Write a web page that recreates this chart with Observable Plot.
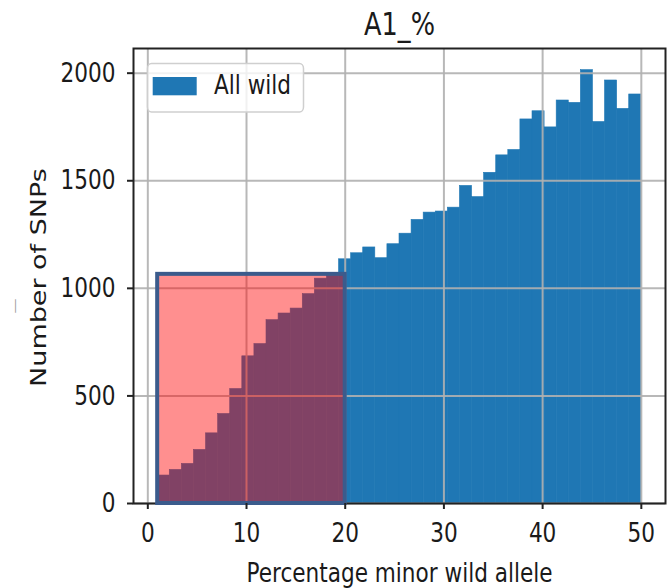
<!DOCTYPE html>
<html>
<head>
<meta charset="utf-8">
<script src="https://cdn.jsdelivr.net/npm/d3@7"></script>
<script src="https://cdn.jsdelivr.net/npm/@observablehq/plot@0.6"></script>
<style>
html, body { margin: 0; padding: 0; background: #fff; }
#chart svg { display: block; }
</style>
</head>
<body>
<div id="chart"></div>
<script>
// ---- data ----
const title = "A1_%";
const xLabel = "Percentage minor wild allele";
const yLabel = "Number of SNPs";
const seriesName = "All wild";
const binStart = 1;
const binEnd = 50;
const counts = [
  130, 156, 184, 249, 326, 416, 532, 684, 741, 852,
  883, 906, 973, 1045, 1058, 1135, 1163, 1190, 1140, 1205,
  1254, 1318, 1352, 1357, 1375, 1476, 1424, 1537, 1618, 1643,
  1785, 1823, 1748, 1873, 1862, 2014, 1773, 1966, 1834, 1901
];
const xTicks = [0, 10, 20, 30, 40, 50];
const yTicks = [0, 500, 1000, 1500, 2000];
const highlightX = [1, 20];
const highlightY = [0, 1065];

// ---- derived tables ----
const nBins = counts.length;
const binWidth = (binEnd - binStart) / nBins;
const bins = counts.map((c, i) => ({x1: binStart + i * binWidth, x2: binStart + (i + 1) * binWidth, y: c}));
const highlight = [{x1: highlightX[0], x2: highlightX[1], y1: highlightY[0], y2: highlightY[1]}];
const xPad = (binEnd - binStart) * 0.05;
const yMax = d3.max(counts) * 1.05;

const ink = "#1a1a1a";
const chart = Plot.plot({
  width: 667,
  height: 588,
  marginLeft: 133,
  marginRight: 2,
  marginTop: 48,
  marginBottom: 85,
  style: {fontFamily: "DejaVu Sans", fontSize: "27px", color: ink, background: "#fff"},
  x: {domain: [binStart - xPad, binEnd + xPad]},
  y: {domain: [0, yMax]},
  marks: [
    Plot.rectY(bins, {x1: "x1", x2: "x2", y: "y", fill: "#1f77b4", stroke: "#1f77b4", strokeWidth: 0.6, inset: 0}),
    Plot.gridX(xTicks, {stroke: "#b0b0b0", strokeWidth: 2, strokeOpacity: 0.9}),
    Plot.gridY(yTicks, {stroke: "#b0b0b0", strokeWidth: 2, strokeOpacity: 0.9}),
    Plot.frame({stroke: "#222", strokeWidth: 2}),
    Plot.rect(highlight, {x1: "x1", x2: "x2", y1: "y1", y2: "y2", fill: "red", fillOpacity: 0.44, stroke: "#3b5b8c", strokeWidth: 4}),
    Plot.axisX(xTicks, {tickSize: 6, tickPadding: 13, stroke: "#222", strokeWidth: 2, fontSize: 27, label: null, tickFormat: d => String(d)}),
    Plot.axisY(yTicks, {tickSize: 6, tickPadding: 12, stroke: "#222", strokeWidth: 2, fontSize: 27, label: null, tickFormat: d => String(d)}),
    Plot.text([title], {text: d => d, frameAnchor: "top", dy: -14, lineAnchor: "bottom", fontSize: 32}),
    Plot.text([xLabel], {text: d => d, frameAnchor: "bottom", dy: 78, lineAnchor: "bottom", fontSize: 27}),
    Plot.text([yLabel], {text: d => d, frameAnchor: "left", textAnchor: "middle", dx: -88, dy: 1.5, rotate: -90, lineAnchor: "bottom", fontSize: 27}),
    Plot.text(["\u2014"], {text: d => d, frameAnchor: "left", textAnchor: "middle", dx: -118, dy: 30, rotate: -90, lineAnchor: "middle", fontSize: 15, fill: "#999"})
  ]
});
document.getElementById("chart").appendChild(chart);

// ---- legend (matplotlib-style box, upper left) ----
const svg = d3.select(chart);
const lg = svg.append("g").attr("class", "legend");
lg.append("rect")
  .attr("x", 147.5).attr("y", 63.5).attr("width", 156).attr("height", 48.5)
  .attr("rx", 4).attr("ry", 5)
  .attr("fill", "#fff").attr("fill-opacity", 0.8)
  .attr("stroke", "#cfcfcf").attr("stroke-width", 1.5);
lg.append("rect")
  .attr("x", 152.7).attr("y", 77).attr("width", 44).attr("height", 18.3)
  .attr("fill", "#1f77b4");
lg.append("text")
  .attr("transform", "translate(214,94)")
  .attr("text-anchor", "start")
  .attr("font-family", "DejaVu Sans").attr("font-size", 27).attr("fill", ink)
  .text(seriesName);

// ---- the reference picture is horizontally compressed: squeeze text the same way ----
svg.selectAll("text").each(function () {
  const t = d3.select(this);
  let tr = t.attr("transform");
  if (tr) {
    if (/rotate\(\s*-?90/.test(tr)) t.attr("transform", tr + " scale(1,0.8)");
    else t.attr("transform", tr + " scale(0.8,1)");
  } else {
    const x = +(t.attr("x") || 0), y = +(t.attr("y") || 0);
    t.attr("transform", `translate(${x},${y}) scale(0.8,1) translate(${-x},${-y})`);
  }
});
</script>
</body>
</html>
